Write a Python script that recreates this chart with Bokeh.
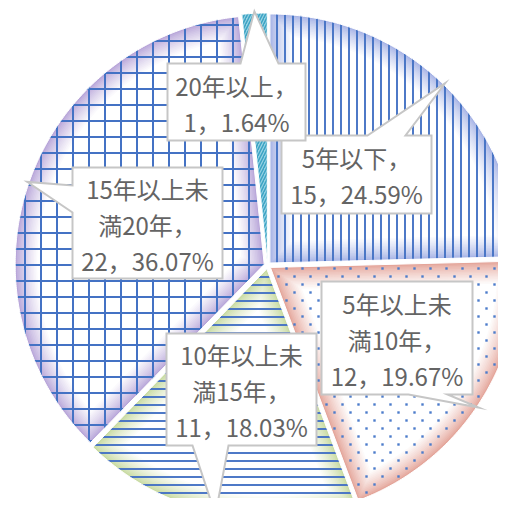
import math
from bokeh.plotting import figure
from bokeh.models import ColumnDataSource, Range1d
from bokeh.core.properties import value
from bokeh.embed import file_html
from bokeh.resources import INLINE

# ---------------- data ----------------
categories = ["5年以下", "5年以上未満10年", "10年以上未満15年", "15年以上未満20年", "20年以上"]
counts = [15, 12, 11, 22, 1]
percents = [24.59, 19.67, 18.03, 36.07, 1.64]
label_heads = [["5年以下，"], ["5年以上未", "満10年，"], ["10年以上未", "満15年，"],
               ["15年以上未", "満20年，"], ["20年以上，"]]

# ---------------- styles ----------------
edge_colors = ["#A7B4E6", "#E4A59A", "#C8DBA3", "#B8A6D9", "#8ACCE0"]
inner_colors = ["#FFFFFF", "#FFFFFF", "#FFFFFF", "#FFFFFF", "#C4E6F0"]
hatch_patterns = ["vertical_line", " ", "horizontal_line", "cross", "right_diagonal_line"]
hatch_scales = [8, 12, 8, 16, 6]
hatch_weights = [1.9, 0.5, 1.9, 2.0, 1.5]
hatch_colors = ["#4472C4", "#4472C4", "#4472C4", "#4472C4", "#3BA3C3"]
DOT_SLICE = 1          # slice filled with a staggered dot pattern
DOT_DX, DOT_DY = 16, 8

# layout (screen px)
CX, CY = 267, 265
R = 249
EXPLODE = 3.5
GLOW = 22
N_GLOW = 14
SIZE = 498
FLIP = SIZE
callouts = [
    (356, 174, 150, 78, "top", 11, 49),
    (396.5, 337.5, 151, 113, "bottom", 11.5, 50.5),
    (241, 389, 150, 112, "bottom", -49, -13),
    (147, 222.5, 150, 111, "left", -37.5, -10.5),
    (236, 101.5, 138, 77, "top", 4, 42),
]
LINE_STEP = 36


def hex2rgb(h):
    h = h.lstrip("#")
    return tuple(int(h[i:i + 2], 16) for i in (0, 2, 4))


def mix(c1, c2, t):
    a, b = hex2rgb(c1), hex2rgb(c2)
    return "#%02x%02x%02x" % tuple(int(round(a[i] + (b[i] - a[i]) * t)) for i in range(3))


def apex_of(a1, a2):
    mid = (a1 + a2) / 2
    return CX + EXPLODE * math.sin(mid), CY - EXPLODE * math.cos(mid)


def wedge_poly(a1, a2, d):
    mid = (a1 + a2) / 2
    half = (a2 - a1) / 2
    ux, uy = math.sin(mid), -math.cos(mid)
    ax, ay = apex_of(a1, a2)
    if d > 0:
        s = d / math.sin(half)
        r = R - d
        if s >= r:
            return None
        px, py = ax + s * ux, ay + s * uy
        da = math.asin(min(1.0, d / r))
    else:
        px, py, r, da = ax, ay, R, 0.0
    b1, b2 = a1 + da, a2 - da
    if b2 <= b1:
        return None
    n = max(4, int((b2 - b1) / (math.pi / 360)))
    xs, ys = [px], [py]
    for i in range(n + 1):
        t = b1 + (b2 - b1) * i / n
        xs.append(ax + r * math.sin(t))
        ys.append(ay - r * math.cos(t))
    return xs, [FLIP - y for y in ys]


total = sum(counts)
starts, ends = [], []
acc = 0
for c in counts:
    starts.append(2 * math.pi * acc / total)
    acc += c
    ends.append(2 * math.pi * acc / total)

p = figure(width=SIZE, height=SIZE, x_range=Range1d(0, SIZE), y_range=Range1d(0, SIZE),
           output_backend="svg", toolbar_location=None, min_border=0,
           x_axis_type=None, y_axis_type=None)
p.grid.visible = False
p.outline_line_color = None
p.background_fill_color = "white"
p.border_fill_color = "white"

# inner glow layers
gx, gy, gc = [], [], []
for i in range(len(counts)):
    for k in range(N_GLOW + 1):
        d = GLOW * k / N_GLOW
        poly = wedge_poly(starts[i], ends[i], d)
        if poly is None:
            continue
        gx.append(poly[0])
        gy.append(poly[1])
        gc.append(mix(edge_colors[i], inner_colors[i], (k / N_GLOW) ** 0.8))
p.patches(xs="xs", ys="ys", fill_color="c", line_color=None,
          source=ColumnDataSource(dict(xs=gx, ys=gy, c=gc)))

# hatch layer
hx, hy = [], []
for i in range(len(counts)):
    poly = wedge_poly(starts[i], ends[i], 0)
    hx.append(poly[0])
    hy.append(poly[1])
p.patches(xs="xs", ys="ys", fill_alpha=0, line_color="white", line_width=1,
          hatch_pattern="hp", hatch_scale="hs", hatch_weight="hw", hatch_color="hc",
          source=ColumnDataSource(dict(xs=hx, ys=hy, hp=hatch_patterns, hs=hatch_scales,
                                       hw=hatch_weights, hc=hatch_colors)))

# staggered dot texture for the dotted slice
a1, a2 = starts[DOT_SLICE], ends[DOT_SLICE]
ax, ay = apex_of(a1, a2)
dxs, dys = [], []
for j in range(0, SIZE // DOT_DY + 2):
    yy = 4 + j * DOT_DY
    for i in range(0, SIZE // DOT_DX + 2):
        xx = 6 + i * DOT_DX + (DOT_DX / 2 if j % 2 else 0)
        vx, vy = xx - ax, yy - ay
        r = math.hypot(vx, vy)
        if r > R - 2 or r < 3:
            continue
        ang = math.atan2(vx, -vy) % (2 * math.pi)
        if a1 + 0.012 < ang < a2 - 0.012:
            dxs.append(xx)
            dys.append(FLIP - yy)
p.scatter(x=dxs, y=dys, marker="square", size=2.4, fill_color="#4C7CCB",
          line_color=None)

# callouts
cx_list, cy_list = [], []
tx, ty, tt = [], [], []
for i, (bx, by, w, h, side, o1, o2) in enumerate(callouts):
    mid = (starts[i] + ends[i]) / 2
    rr = R + EXPLODE + 2
    tipx, tipy = CX + rr * math.sin(mid), CY - rr * math.cos(mid)
    x0, x1, y0, y1 = bx - w / 2, bx + w / 2, by - h / 2, by + h / 2
    if side == "top":
        pts = [(x0, y0), (bx + o1, y0), (tipx, tipy), (bx + o2, y0), (x1, y0), (x1, y1), (x0, y1)]
    elif side == "bottom":
        pts = [(x0, y0), (x1, y0), (x1, y1), (bx + o2, y1), (tipx, tipy), (bx + o1, y1), (x0, y1)]
    else:
        pts = [(x0, y0), (x1, y0), (x1, y1), (x0, y1), (x0, by + o2), (tipx, tipy), (x0, by + o1)]
    cx_list.append([q[0] for q in pts])
    cy_list.append([FLIP - q[1] for q in pts])
    lines = label_heads[i] + ["%d，%.2f%%" % (counts[i], percents[i])]
    n = len(lines)
    for j, line in enumerate(lines):
        tx.append(bx)
        ty.append(FLIP - (by + 1 + (j - (n - 1) / 2) * LINE_STEP))
        tt.append(line)

p.patches(xs="xs", ys="ys", fill_color="white", line_color="#C6C6C6", line_width=2,
          line_join="miter", source=ColumnDataSource(dict(xs=cx_list, ys=cy_list)))
p.text(x="x", y="y", text="t", source=ColumnDataSource(dict(x=tx, y=ty, t=tt)),
       text_font=value("Noto Sans CJK JP"), text_font_size="24px",
       text_align="center", text_baseline="middle", text_color="#646464")

open("out.html", "w").write(file_html(p, INLINE))
